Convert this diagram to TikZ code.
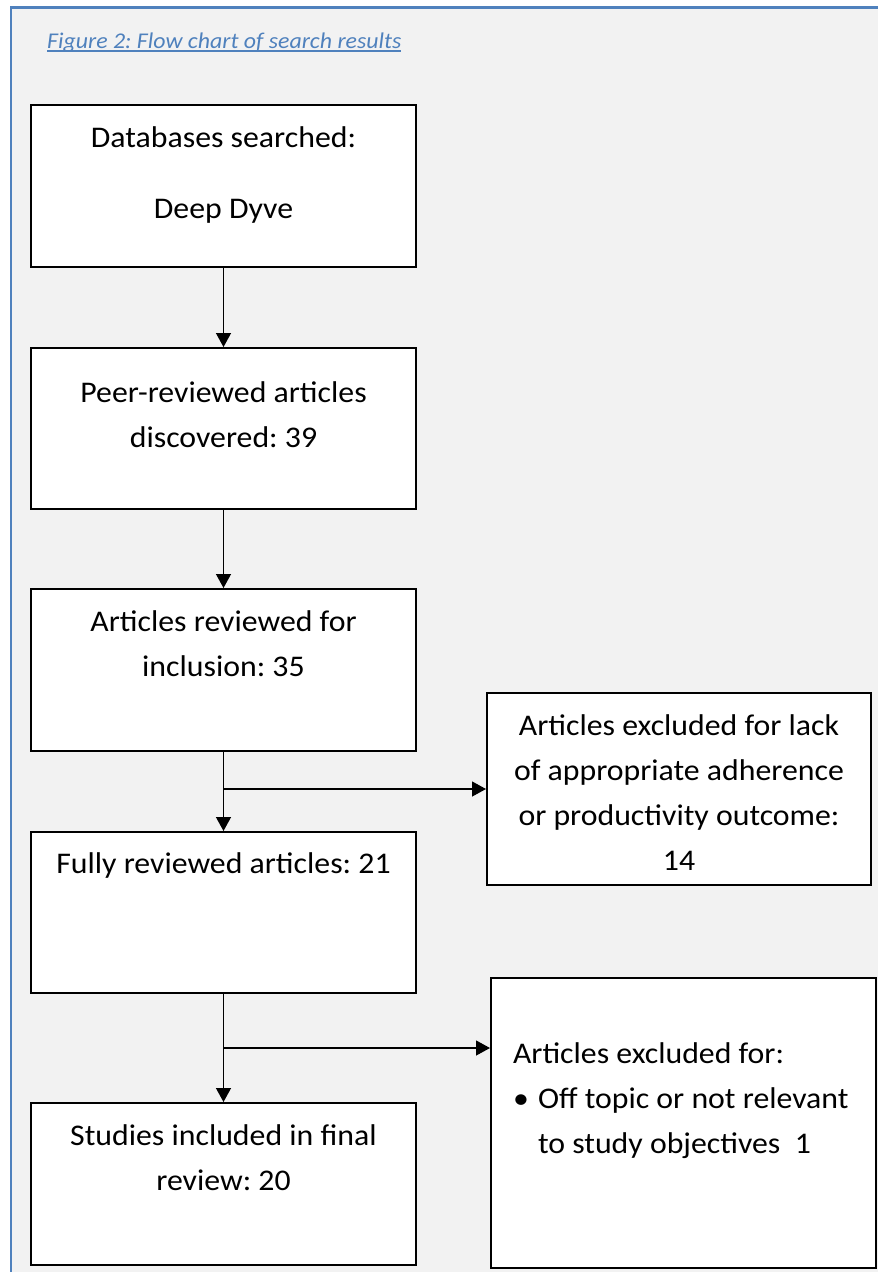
\documentclass[tikz,border=0pt]{standalone}
\usepackage{fontspec}
\setmainfont{Carlito}[FakeStretch=1.06]
\usetikzlibrary{arrows.meta,calc}
\frenchspacing

\definecolor{captionblue}{RGB}{79,129,189}
\definecolor{panelgray}{RGB}{242,242,242}

\tikzset{
  flowbox/.style={draw=black, line width=2pt, fill=white, inner sep=0pt,
    anchor=north west, font=\fontsize{30}{45}\selectfont},
  flowarrow/.style={line width=1.3pt, -{Triangle[length=14pt,width=15pt]}},
}

% box of fixed size, text set from the top
\newcommand{\boxtext}[4]{\parbox[t][#2][t]{#1}{\centering\vspace*{#3}\strut #4}}
% underlined caption text
\newsavebox{\capbox}
\newcommand{\capline}[1]{\sbox{\capbox}{#1}\rlap{\rule[-3.5pt]{\wd\capbox}{1.2pt}}\usebox{\capbox}}

\begin{document}
\begin{tikzpicture}[x=1pt,y=-1pt,line cap=butt,line join=miter]
\useasboundingbox (0,0) rectangle (878,1272);
\fill[white] (0,0) rectangle (878,1272);
\fill[panelgray] (11,7) rectangle (878,1272);
\draw[captionblue, line width=2.5pt] (11,1272) -- (11,7.5) -- (878,7.5);

\node[anchor=base west, inner sep=0pt, text=captionblue,
  font=\fontsize{22.5}{27}\selectfont\itshape] (caption) at (47,48)
  {\capline{Figure 2: Flow chart of search results}};

\node[flowbox] (db) at (30,104)
  {\boxtext{385pt}{162pt}{10.5pt}{Databases searched:\\[26pt]Deep Dyve}};
\node[flowbox] (found) at (30,347)
  {\boxtext{385pt}{161pt}{22.5pt}{Peer-reviewed articles\\discovered: 39}};
\node[flowbox] (screened) at (30,588)
  {\boxtext{385pt}{162pt}{10.5pt}{Articles reviewed for\\inclusion: 35}};
\node[flowbox] (excl) at (486,692)
  {\boxtext{384pt}{192pt}{10.5pt}{Articles excluded for lack\\of appropriate adherence\\or productivity outcome:\\14}};
\node[flowbox] (full) at (30,831)
  {\boxtext{385pt}{161pt}{9.5pt}{Fully reviewed articles: 21}};
\node[flowbox] (offtopic) at (490,977)
  {\parbox[t][290pt][t]{385pt}{\raggedright\leftskip=22pt\vspace*{53.5pt}%
    \strut Articles excluded for:\\
    \makebox[25pt][l]{\textbullet}Off topic or not relevant\\
    \hspace*{25pt}to study objectives\ \ 1}};
\node[flowbox] (final) at (30,1102)
  {\boxtext{385pt}{162pt}{10.5pt}{Studies included in final\\review: 20}};

% main flow
\draw[flowarrow] (db) -- (found);
\draw[flowarrow] (found) -- (screened);
\draw[flowarrow] (screened) -- (full);
\draw[flowarrow] (full) -- (final);

% exclusions
\coordinate (fork1) at (screened.south |- excl.west);
\coordinate (fork2) at ($(full.south)!0.5!(final.north)$);
\draw[flowarrow] (fork1) -- (excl.west);
\draw[flowarrow] (fork2) -- (fork2 -| offtopic.west);
\end{tikzpicture}
\end{document}
